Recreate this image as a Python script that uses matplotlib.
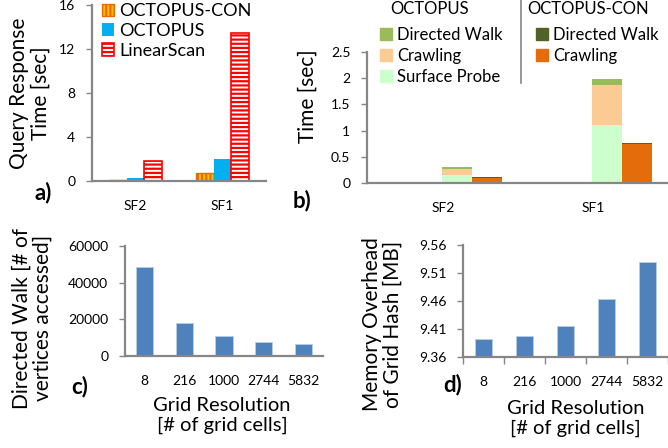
import matplotlib
matplotlib.use("Agg")
import matplotlib.pyplot as plt
import numpy as np
from matplotlib.patches import Patch
from matplotlib.lines import Line2D

plt.rcParams['font.family'] = ['Lato', 'DejaVu Sans']
plt.rcParams['hatch.linewidth'] = 1.6

# ---- data ----
sf_labels = ['SF2', 'SF1']
# a) query response time [sec]
con_time = [0.12, 0.76]
octopus_time = [0.31, 1.99]
linear_time = [1.85, 13.45]
# b) breakdown [sec]
oct_probe = [0.16, 1.10]
oct_crawl = [0.11, 0.77]
oct_walk = [0.04, 0.12]
con_crawl = [0.10, 0.74]
con_walk = [0.015, 0.02]
# c), d) grid resolution
grid_res = ['8', '216', '1000', '2744', '5832']
walk_vertices = [48500, 18000, 11050, 7800, 6400]
mem_overhead = [9.392, 9.398, 9.4155, 9.463, 9.529]

AX = '#868686'
W, H = 668, 448
LBL = 15
XLBL = 14.5
TCK = 10

fig = plt.figure(figsize=(6.68, 4.48), dpi=100)

def box(l, t, r, b):
    return [l / W, 1 - b / H, (r - l) / W, (b - t) / H]

def style(ax):
    for s in ['top', 'right']:
        ax.spines[s].set_visible(False)
    for s in ['left', 'bottom']:
        ax.spines[s].set_color(AX)
        ax.spines[s].set_linewidth(1.6)
    ax.tick_params(axis='y', colors=AX, labelcolor='black', length=4, width=1, labelsize=TCK, pad=8)
    ax.tick_params(axis='x', length=0, labelsize=TCK)

# ---- a) ----
ax = fig.add_axes(box(92, 5, 266, 181))
style(ax)
x = np.arange(len(sf_labels))
bw = 0.2
ax.bar(x - bw, con_time, bw, facecolor='#FFC000', edgecolor='#E46C0A', hatch='||||', linewidth=1, label='OCTOPUS-CON')
ax.bar(x, octopus_time, bw, color='#00B0F0', label='OCTOPUS')
ax.bar(x + bw, linear_time, bw, facecolor='white', edgecolor='#FF0000', hatch='----', linewidth=1.2, label='LinearScan')
ax.set_xlim(-0.5, 1.5)
ax.set_ylim(0, 16)
ax.set_yticks([0, 4, 8, 12, 16])
ax.set_xticks(x)
ax.set_xticklabels(sf_labels)
ax.tick_params(axis='x', pad=14)
ax.set_ylabel('Query Response\nTime [sec]', fontsize=LBL, linespacing=1.1)
ax.yaxis.set_label_coords(-0.24, 0.5)
ax.legend(loc='upper left', bbox_to_anchor=(0.015, 1.05), frameon=False, fontsize=13,
          handlelength=0.7, handleheight=0.7, handletextpad=0.25, labelspacing=0.2,
          borderaxespad=0)

# ---- b) ----
ax = fig.add_axes(box(367, 52, 667, 183))
style(ax)
ax.bar(x, oct_probe, bw, color='#CCFFCC', align='edge')
ax.bar(x, oct_crawl, bw, bottom=oct_probe, color='#FCCB94', align='edge')
ax.bar(x, oct_walk, bw, bottom=np.add(oct_probe, oct_crawl), color='#9BBB59', align='edge')
ax.bar(x + bw, con_crawl, bw, color='#E46C0A', align='edge')
ax.bar(x + bw, con_walk, bw, bottom=con_crawl, color='#4F6228', align='edge')
ax.set_xlim(-0.5, 1.5)
ax.set_ylim(0, 2.5)
ax.set_yticks([0, 0.5, 1, 1.5, 2, 2.5])
ax.set_yticklabels(['0', '0.5', '1', '1.5', '2', '2.5'])
ax.set_xticks(x + 0.005)
ax.set_xticklabels(sf_labels)
ax.tick_params(axis='x', pad=14)
ax.set_ylabel('Time [sec]', fontsize=LBL)
ax.yaxis.set_label_coords(-0.165, 0.66)

h1 = [Patch(color='#9BBB59', label='Directed Walk'),
      Patch(color='#FCCB94', label='Crawling'),
      Patch(color='#CCFFCC', label='Surface Probe')]
h2 = [Patch(color='#4F6228', label='Directed Walk'),
      Patch(color='#E46C0A', label='Crawling')]
lg1 = fig.legend(handles=h1, loc='upper left', bbox_to_anchor=(373 / W, 1 - 20 / H), frameon=False,
                 fontsize=12, handlelength=0.75, handleheight=0.75, handletextpad=0.3,
                 labelspacing=0.3, borderaxespad=0)
lg2 = fig.legend(handles=h2, loc='upper left', bbox_to_anchor=(529 / W, 1 - 20 / H), frameon=False,
                 fontsize=12, handlelength=0.75, handleheight=0.75, handletextpad=0.3,
                 labelspacing=0.3, borderaxespad=0)
fig.text(390 / W, 1 - 9 / H, 'OCTOPUS', fontsize=12, ha='left', va='center')
fig.text(527 / W, 1 - 9 / H, 'OCTOPUS-CON', fontsize=12, ha='left', va='center')
fig.add_artist(Line2D([521 / W, 521 / W], [1 - 0 / H, 1 - 83 / H], color=AX, lw=1.2))

# ---- c) ----
xc = np.arange(len(grid_res))
ax = fig.add_axes(box(125, 246, 323, 356))
style(ax)
ax.bar(xc, walk_vertices, 0.43, color='#4F81BD', edgecolor='#B9CDE5', linewidth=0.6)
ax.set_xlim(-0.5, 4.5)
ax.set_ylim(0, 60000)
ax.set_yticks([0, 20000, 40000, 60000])
ax.set_xticks(xc)
ax.set_xticklabels(grid_res)
ax.tick_params(axis='x', pad=14)
ax.set_ylabel('Directed Walk [# of\nvertices accessed]', fontsize=LBL, linespacing=1.05)
ax.yaxis.set_label_coords(-0.365, 0.345)
ax.set_xlabel('Grid Resolution\n[# of grid cells]', fontsize=XLBL, linespacing=1.2)
ax.xaxis.set_label_coords(0.49, -0.37)
ax.xaxis.label.set_va('top')

# ---- d) ----
ax = fig.add_axes(box(463, 245, 668, 357))
style(ax)
ax.bar(xc, mem_overhead, 0.43, color='#4F81BD', edgecolor='#B9CDE5', linewidth=0.6)
ax.set_xlim(-0.5, 4.5)
ax.set_ylim(9.36, 9.56)
ax.set_yticks([9.36, 9.41, 9.46, 9.51, 9.56])
ax.set_yticklabels(['9.36', '9.41', '9.46', '9.51', '9.56'])
ax.set_xticks(xc)
ax.set_xticklabels(grid_res)
ax.set_xticks(np.arange(-0.5, 5, 1), minor=True)
ax.tick_params(axis='x', which='minor', length=5, width=1, color=AX)
ax.tick_params(axis='x', pad=14)
ax.set_ylabel('Memory Overhead\nof Grid Hash [MB]', fontsize=LBL, linespacing=1.05)
ax.yaxis.set_label_coords(-0.295, 0.29)
ax.set_xlabel('Grid Resolution\n[# of grid cells]', fontsize=XLBL, linespacing=1.2)
ax.xaxis.set_label_coords(0.55, -0.38)
ax.xaxis.label.set_va('top')

# panel letters
for txt, px, py in [('a)', 43, 193), ('b)', 302, 201), ('c)', 80, 387), ('d)', 453, 385)]:
    fig.text(px / W, 1 - py / H, txt, fontsize=16, fontweight='bold', ha='center', va='center')

fig.savefig('out.png', dpi=100)
